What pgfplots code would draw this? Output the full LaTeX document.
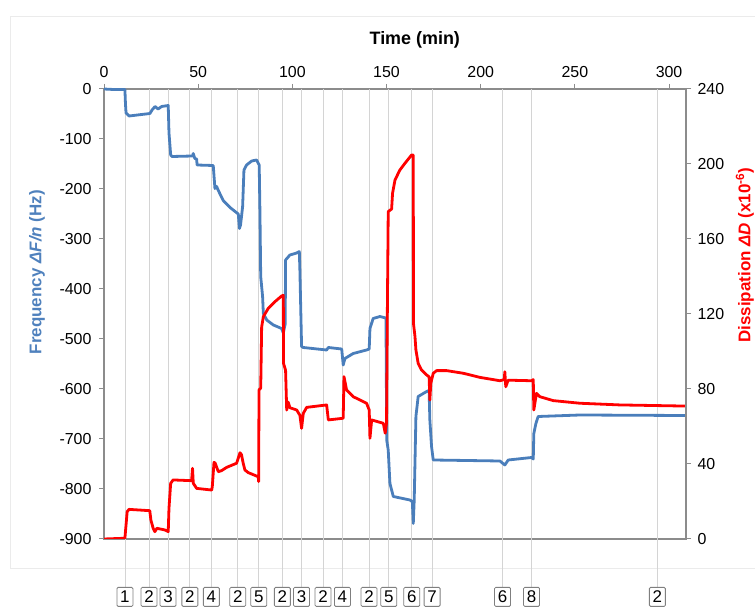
\documentclass[border=0pt]{standalone}
\usepackage{fontspec}
\setmainfont{Liberation Sans}
\usepackage{pgfplots}
\usepackage{pgfplotstable}
\pgfplotsset{compat=1.18}

\definecolor{freqblue}{HTML}{4A7EBB}
\definecolor{labelblue}{HTML}{4F81BD}
\definecolor{dissred}{HTML}{FF0000}
\definecolor{axisgray}{HTML}{8C8C8C}
\definecolor{gridgray}{HTML}{D4D4D4}
\definecolor{boxgray}{HTML}{7F7F7F}

% Frequency shift Delta F/n (Hz) versus time (min)
\pgfplotstableread{
t F
0 0
5 -1
11.1 -1
11.4 -30
11.7 -48
13.3 -54
24.4 -49
25.5 -42
27.1 -35
28.7 -40
30.6 -35
34.1 -33
34.5 -88
35.4 -132
36.1 -135
47.0 -134
47.4 -129
48.2 -139
49.2 -140
49.4 -152
58.0 -153
58.9 -199
59.8 -195
60.7 -203
63.3 -223
66.9 -237
71.3 -250
71.9 -279
72.5 -272
73.6 -235
74.3 -162
75.7 -152
78.4 -144
81.0 -142
82.4 -152
82.8 -248
83.2 -375
84.2 -415
84.6 -449
86.4 -462
89.9 -472
94.3 -479
95.2 -488
96.2 -470
96.4 -342
98.7 -332
102.3 -328
103.7 -325
104.0 -362
104.9 -515
105.8 -517
118.2 -522
119.1 -517
126.2 -520
127.0 -552
127.9 -539
132.3 -529
139.4 -522
140.8 -520
141.2 -479
142.9 -459
146.5 -455
149.7 -458
150.1 -702
150.9 -722
151.8 -789
153.6 -815
162.4 -822
163.7 -825
164.2 -869
164.7 -822
165.6 -655
166.8 -615
171.3 -605
172.6 -603
173.0 -662
173.9 -715
174.8 -742
210.2 -744
212.8 -752
214.6 -742
227.0 -737
227.9 -740
228.2 -689
229.3 -669
230.5 -655
252.7 -652
308.4 -653
}\freqdata

% Dissipation shift Delta D (x1e-6) versus time (min)
\pgfplotstableread{
t D
0 0
11.1 0.4
11.7 7.5
12.3 14.6
13.3 15.8
24.3 15.1
24.9 10.1
26.1 5.7
27.0 3.9
28.1 5.7
32.4 4.8
34.1 3.9
34.5 16.4
35.4 29.7
36.7 31.5
46.5 31.1
47.0 37.7
47.4 29.7
49.2 27.0
57.2 26.1
57.5 28
58.4 40.9
59.0 40.5
60.7 35.9
62.5 36.5
65.1 38.2
70.4 40.4
72.2 46.0
73.0 45.0
73.9 40.4
74.8 36.8
76.6 35.4
81.9 33.2
82.1 30.6
82.3 79.5
83.2 80.5
83.7 113
84.6 118.6
87.2 123
90.8 126.6
94.3 129.6
95.2 130
95.3 93.7
96.4 90
97.0 68.8
97.8 73
98.7 70
102.3 68.8
104.0 66
104.9 59
105.8 67
107.6 70.2
118.2 71.5
119.1 63.5
127.0 64.4
127.4 86.6
128.8 79.5
132.3 75.9
139.4 72.4
140.8 68.8
141.2 53.7
142.1 63.5
148.3 61.7
149.3 56.4
150.0 62
150.4 116.8
150.9 174.6
152.7 176
153.2 184.4
154.5 191.5
157.1 196.8
159.8 200.4
163.3 204.8
164.2 204.8
164.3 115
165.1 108
165.6 100.8
166.8 93.7
168.6 90.1
171.3 87.5
172.6 86.5
173.0 74.1
173.5 83
174.8 88.4
176.6 89.8
181.9 89.8
190.7 88.4
199.6 86.2
210.2 84.4
212.5 85
212.8 89.2
213.3 81.2
214.6 84.7
227.0 84.4
227.9 85
228.2 68.8
229.6 77.7
231.4 75.9
238.5 73.8
252.7 72.4
273.9 71.5
308.4 70.9
}\dissdata

\pgfplotsset{
  commonaxis/.style={
    at={(104bp,69bp)}, anchor=south west,
    scale only axis, width=582bp, height=450bp,
    xmin=0, xmax=309,
    tick align=outside, major tick length=5bp,
    axis line style={axisgray, line width=1.3bp},
    tick style={axisgray, line width=1bp},
    ticklabel style={font=\fontsize{16}{19}\selectfont, text=black},
    /pgf/number format/assume math mode=true,
    scaled ticks=false,
  },
}

\begin{document}
\begin{tikzpicture}[x=1bp,y=1bp]
\useasboundingbox (0,0) rectangle (755,608);
% chart area frame
\draw[black!8, line width=0.8bp] (760,40) -- (10,40) -- (10,592) -- (760,592);

\begin{axis}[
  commonaxis,
  ymin=-900, ymax=0,
  xtick={0,50,...,300}, ytick={-900,-800,...,0},
  xtick pos=right, xticklabel pos=right,
  ytick pos=left, yticklabel pos=left,
  xticklabel style={yshift=3bp},
  yticklabel style={xshift=-4bp},
  xlabel={Time (min)},
  xlabel style={font=\bfseries\fontsize{18}{21}\selectfont,
    at={(axis description cs:0.534,1.109)}, anchor=center},
  ylabel={Frequency \textit{ΔF/n} (Hz)},
  ylabel style={font=\bfseries\fontsize{17}{20}\selectfont, text=labelblue,
    at={(axis description cs:-0.115,0.593)}, anchor=center},
  clip=false,
]
% injection markers: step number below each event line
\foreach \t/\n in {11.1/1,23.9/2,34.0/3,45.6/2,57.0/4,71.0/2,82.2/5,94.7/2,
                   104.9/3,116.3/2,126.6/4,140.7/2,151.2/5,163.4/6,174.2/7,
                   211.6/6,227.0/8,293.8/2}{
  \edef\tmp{\noexpand\draw[gridgray, line width=0.8bp]
    (axis cs:\t,0) -- (axis cs:\t,-900) -- ++(0bp,-48bp)
    node[anchor=north, draw=boxgray, fill=white, rounded corners=1.2bp,
         line width=0.8bp, minimum width=16bp, minimum height=19bp,
         inner sep=0pt, text=black,
         font=\noexpand\fontsize{17}{19}\noexpand\selectfont] {\n};}
  \tmp
}
\addplot[freqblue, line width=2.8bp, line join=round] table[x=t, y=F] {\freqdata};
\end{axis}

\begin{axis}[
  commonaxis,
  ymin=0, ymax=240, ytick={0,40,...,240},
  axis x line=none, axis y line*=right,
  yticklabel style={xshift=3bp},
  ylabel={Dissipation \textit{ΔD} (x10\textsuperscript{-6})},
  ylabel style={font=\bfseries\fontsize{17}{20}\selectfont, text=dissred,
    at={(axis description cs:1.101,0.631)}, anchor=center},
]
\addplot[dissred, line width=2.8bp, line join=round] table[x=t, y=D] {\dissdata};
\end{axis}
\end{tikzpicture}
\end{document}
